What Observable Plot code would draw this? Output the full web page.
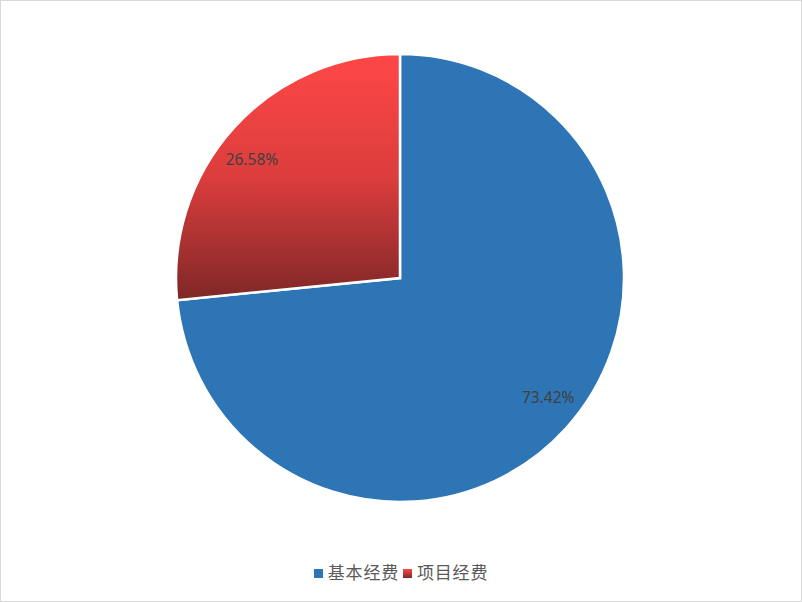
<!DOCTYPE html>
<html>
<head>
<meta charset="utf-8">
<script src="https://cdn.jsdelivr.net/npm/d3@7"></script>
<script src="https://cdn.jsdelivr.net/npm/@observablehq/plot@0.6"></script>
<style>
  body { margin: 0; background: #fff; }
  #frame { position: relative; width: 800px; height: 600px; border: 1px solid #d9d9d9; background: #fff; overflow: hidden; }
  #legend { position: absolute; left: 0; top: 558px; width: 100%; text-align: center; font-family: "Noto Sans CJK SC", sans-serif; font-size: 17px; letter-spacing: 0.8px; color: #595959; line-height: 26px; }
  .sw { display: inline-block; width: 9px; height: 9px; margin-right: 5px; vertical-align: 1px; }
  .item { margin: 0 2px; }
</style>
</head>
<body>
<div id="frame"><div id="chart"></div><div id="legend"></div></div>
<script>
const categories = ["基本经费", "项目经费"];
const values = [73.42, 26.58];
const labels = ["73.42%", "26.58%"];
const fills = ["#2e75b6", "url(#redGrad)"];

const data = categories.map((c, i) => ({category: c, value: values[i], label: labels[i], fill: fills[i]}));

function pieMark(index, scales, vals, dimensions, context) {
  const cx = scales.x(0), cy = scales.y(0);
  const r = scales.x(1) - scales.x(0);
  const g = d3.create("svg:g");
  const defs = g.append("defs");
  const grad = defs.append("linearGradient").attr("id", "redGrad").attr("x1", 0).attr("y1", 0).attr("x2", 0).attr("y2", 1);
  grad.append("stop").attr("offset", "0%").attr("stop-color", "#ff4747");
  grad.append("stop").attr("offset", "50%").attr("stop-color", "#dc3d3d");
  grad.append("stop").attr("offset", "100%").attr("stop-color", "#7e2727");
  const arcs = d3.pie().sort(null).value(d => d.value)(data);
  const arc = d3.arc().innerRadius(0).outerRadius(r);
  g.append("g").attr("transform", `translate(${cx},${cy})`)
    .selectAll("path").data(arcs).join("path")
    .attr("d", arc)
    .attr("fill", d => d.data.fill)
    .attr("stroke", "#fff")
    .attr("stroke-width", 2.5)
    .attr("stroke-linejoin", "miter");
  const shift = -3.4 * Math.PI / 180;
  g.append("g").attr("transform", `translate(${cx},${cy})`)
    .selectAll("text").data(arcs).join("text")
    .attr("x", d => { const a = (d.startAngle + d.endAngle) / 2 + shift; return Math.sin(a) * r * 0.848; })
    .attr("y", d => { const a = (d.startAngle + d.endAngle) / 2 + shift; return -Math.cos(a) * r * 0.848; })
    .attr("text-anchor", "middle")
    .attr("dominant-baseline", "central")
    .attr("fill", "#404040")
    .attr("font-family", "'Noto Sans', 'Open Sans', sans-serif")
    .attr("font-size", 15.5)
    .text(d => d.data.label);
  return g.node();
}

const plot = Plot.plot({
  width: 800,
  height: 545,
  margin: 0,
  x: {domain: [-1, 1], range: [175, 623], axis: null},
  y: {domain: [-1, 1], range: [501, 53], axis: null},
  marks: [pieMark]
});
document.getElementById("chart").appendChild(plot);

const legend = document.getElementById("legend");
const swatchFills = ["#2e75b6", "linear-gradient(#ff4747, #7e2727)"];
categories.forEach((c, i) => {
  const span = document.createElement("span");
  span.className = "item";
  span.innerHTML = `<span class="sw" style="background:${swatchFills[i]}"></span>${c}`;
  legend.appendChild(span);
});
</script>
</body>
</html>
